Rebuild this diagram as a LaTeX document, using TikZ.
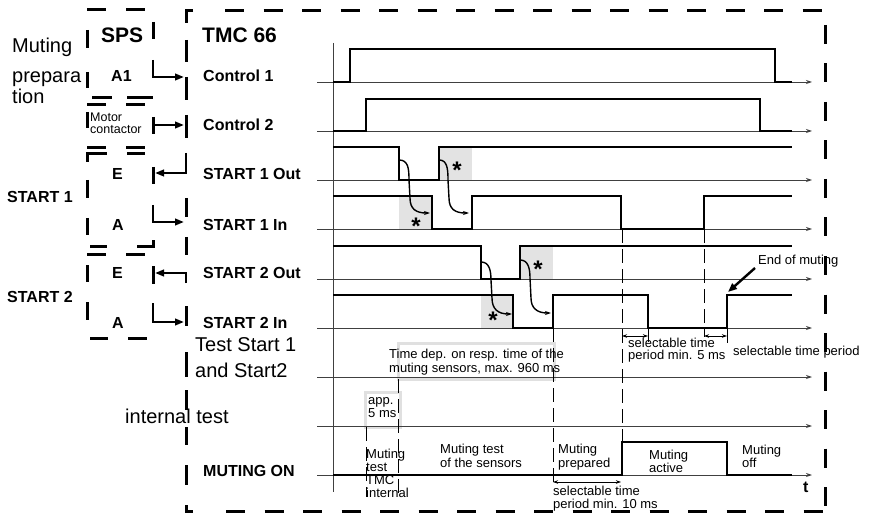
\documentclass[tikz,border=0pt]{standalone}
\usepackage{fontspec}
\setmainfont{Liberation Sans}
\usetikzlibrary{arrows.meta}
\begin{document}
\begin{tikzpicture}[x=1pt,y=-1pt,
  bseg/.style={line width=3pt, line cap=butt, line join=miter},
  hdash/.style={line width=3pt, dash pattern=on 19pt off 20pt},
  wave/.style={line width=2.8pt, line join=miter, line cap=butt},
  base/.style={line width=0.9pt, draw=black!75, -{Stealth[length=6pt,width=4pt]}},
  axisline/.style={line width=0.9pt, draw=black!75},
  guide/.style={line width=0.8pt, dash pattern=on 14pt off 6pt},
  conn/.style={line width=2.4pt, -{Triangle[length=9pt,width=6.5pt]}},
  curv/.style={line width=1.4pt, -{Stealth[length=6pt,width=4pt]}},
  meas/.style={line width=0.8pt, {Stealth[length=5pt,width=3.5pt]}-{Stealth[length=5pt,width=3.5pt]}},
  shade/.style={fill=black!11},
  gbox/.style={draw=black!12, line width=3pt},
  lbl/.style={font=\fontsize{16}{17}\selectfont\bfseries, anchor=base west, inner sep=0},
  heavy/.style={font=\fontsize{21}{22}\selectfont\bfseries, anchor=base west, inner sep=0},
  small/.style={font=\fontsize{13}{14}\selectfont, anchor=base west, inner sep=0},
  mc/.style={font=\fontsize{12.5}{13}\selectfont, anchor=base west, inner sep=0},
  big/.style={font=\fontsize{20}{22}\selectfont, anchor=base west, inner sep=0},
  star/.style={font=\fontsize{24}{24}\selectfont\bfseries, inner sep=0}
]
\useasboundingbox (0,0) rectangle (870,513);

% shaded areas
\fill[shade] (439,147) rectangle (472,180);
\fill[shade] (399,196) rectangle (432,229);
\fill[shade] (520,246) rectangle (553,279);
\fill[shade] (481,295) rectangle (513,328);

% light gray text frames
\draw[gbox] (398,343) rectangle (554,379);
\draw[gbox] (365,392) rectangle (400,427);

% baselines and axis
\foreach \yy in {82,131,180,229,279,328,377,426,475}
  \draw[base] (317,\yy) -- (812,\yy);
\draw[axisline] (333,43) -- (333,492);

% dashed guides
\draw[guide] (366,427) -- (366,497);
\draw[guide] (398,379) -- (398,493);
\draw[guide] (553,328) -- (553,488);
\draw[guide] (622,229) -- (622,442);
\draw[guide] (704,229) -- (704,337);

% measurement arrows
\draw[meas] (622,336) -- (648,336);
\draw[meas] (704,336) -- (727,336);
\draw[meas] (553,482) -- (621,482);
\draw[line width=0.8pt] (648,328) -- (648,342);
\draw[line width=0.8pt] (727,328) -- (727,343);

% waveforms
\draw[wave] (333,82) -- (350,82) -- (350,49) -- (775,49) -- (775,82) -- (792,82);
\draw[wave] (333,131) -- (366,131) -- (366,99) -- (760,99) -- (760,131) -- (792,131);
\draw[wave] (333,147) -- (399,147) -- (399,180) -- (439,180) -- (439,147) -- (792,147);
\draw[wave] (333,196) -- (432,196) -- (432,229) -- (472,229) -- (472,196) -- (621,196) -- (621,229) -- (704,229) -- (704,196) -- (792,196);
\draw[wave] (333,246) -- (481,246) -- (481,279) -- (520,279) -- (520,246) -- (792,246);
\draw[wave] (333,295) -- (513,295) -- (513,328) -- (553,328) -- (553,295) -- (648,295) -- (648,328) -- (727,328) -- (727,295) -- (792,295);
\draw[wave] (333,475) -- (622,475) -- (622,442) -- (727,442) -- (727,475) -- (792,475);

% curved dependency arrows
\coordinate (c1s) at (399,160); \coordinate (c1e) at (430,213);
\coordinate (c2s) at (439,160); \coordinate (c2e) at (469,213);
\coordinate (c3s) at (481,262); \coordinate (c3e) at (512,314);
\coordinate (c4s) at (520,260); \coordinate (c4e) at (551,313);
\draw[curv] (c1s) .. controls (408,160) and (409,168) .. (409,180) -- (410,198) .. controls (410,209) and (416,213) .. (c1e);
\draw[curv] (c2s) .. controls (447,160) and (448,168) .. (448,180) -- (449,198) .. controls (449,209) and (455,213) .. (c2e);
\draw[curv] (c3s) .. controls (489,262) and (491,270) .. (491,280) -- (492,298) .. controls (492,309) and (498,314) .. (c3e);
\draw[curv] (c4s) .. controls (528,260) and (530,268) .. (530,278) -- (531,298) .. controls (531,308) and (537,313) .. (c4e);

\node[star] (st1) at (457,170) {*};
\node[star] (st2) at (416,226) {*};
\node[star] (st3) at (538,269) {*};
\node[star] (st4) at (493,320) {*};

% connectors between SPS and TMC
\coordinate (a1s) at (153,60);  \coordinate (a1e) at (184,77);
\coordinate (mcs) at (153,125); \coordinate (mce) at (184,125);
\coordinate (e1s) at (186,153); \coordinate (e1e) at (155,173);
\coordinate (i1s) at (153,205); \coordinate (i1e) at (184,222);
\coordinate (e2s) at (186,283); \coordinate (e2e) at (155,273);
\coordinate (i2s) at (153,303); \coordinate (i2e) at (184,322);
\draw[conn] (a1s) |- (a1e);
\draw[conn] (mcs) -- (mce);
\draw[conn] (e1s) |- (e1e);
\draw[conn] (i1s) |- (i1e);
\draw[conn] (e2s) |- (e2e);
\draw[conn] (i2s) |- (i2e);

% End of muting arrow
\coordinate (eoms) at (755,268); \coordinate (eome) at (728,292);
\draw[line width=2.4pt, -{Triangle[length=9pt,width=7pt]}] (eoms) -- (eome);

% left texts
\node[big] (mp1) at (12,53) {Muting};
\node[big] (mp2) at (12,83) {prepara};
\node[big] (mp3) at (12,104) {tion};
\node[heavy] (sps) at (101,43) {SPS};
\node[heavy] (tmc) at (202,43) {TMC 66};
\node[lbl] (a1) at (111,82) {A1};
\node[mc] (mot1) at (90,122) {Motor};
\node[mc] (mot2) at (90,134) {contactor};
\node[lbl] (e1) at (112,180) {E};
\node[lbl] (aa1) at (112,230) {A};
\node[lbl] (e2) at (112,278) {E};
\node[lbl] (aa2) at (112,328) {A};
\node[lbl] (st1l) at (7,203) {START 1};
\node[lbl] (st2l) at (7,302) {START 2};

\node[lbl] (c1) at (203,82) {Control 1};
\node[lbl] (c2) at (203,131) {Control 2};
\node[lbl] (s1o) at (203,180) {START 1 Out};
\node[lbl] (s1i) at (203,230) {START 1 In};
\node[lbl] (s2o) at (203,278) {START 2 Out};
\node[lbl] (s2i) at (203,328) {START 2 In};
\node[big] (ts1) at (195,351) {Test Start 1};
\node[big] (ts2) at (195,377) {and Start2};
\node[big] (it) at (125,423) {internal test};
\node[lbl] (mon) at (203,476) {MUTING ON};
\node[lbl] (tt) at (803,492) {t};

% chart texts
\node[small] (td1) at (389,358.5) {Time dep. on resp. time of the};
\node[small] (td2) at (389,372.5) {muting sensors, max. 960 ms};
\node[small] (ap1) at (368,404.5) {app.};
\node[small] (ap2) at (368,417.5) {5 ms};
\node[small] (mt1) at (366,458) {Muting};
\node[small] (mt2) at (366,471) {test};
\node[small] (mt3) at (366,484.5) {TMC};
\node[small] (mt4) at (366,497.5) {internal};
\node[small] (ms1) at (440,453.5) {Muting test};
\node[small] (ms2) at (440,467.5) {of the sensors};
\node[small] (mpr1) at (558,453.5) {Muting};
\node[small] (mpr2) at (558,467.5) {prepared};
\node[small] (ma1) at (649,459) {Muting};
\node[small] (ma2) at (649,472) {active};
\node[small] (mo1) at (742,454.5) {Muting};
\node[small] (mo2) at (742,467.5) {off};
\node[small] (sel1) at (553,495.5) {selectable time};
\node[small] (sel2) at (553,508.5) {period min. 10 ms};
\node[small] (sel3) at (628,347.5) {selectable time};
\node[small] (sel4) at (628,359) {period min. 5 ms};
\node[small] (sel5) at (733,355) {selectable time period};
\node[small] (eom) at (758,264.5) {End of muting};

% ---- dashed borders (drawn last, over the texts) ----
% TMC 66 frame
\draw[bseg] (193,11) -- (186,11) -- (186,23);
\foreach \a/\b in {40/62,77/100,115/138,198/217,237/255,306/326,352/377,390/410,427/445,465/485}
  \draw[bseg] (186,\a) -- (186,\b);
\draw[bseg] (186,505) -- (186,511) -- (193,511);
\foreach \i in {0,...,15}
  \draw[bseg] ({225+38.5*\i},11) -- ({244+38.5*\i},11);
\foreach \i in {0,...,15}
  \draw[bseg] ({226+38.5*\i},511) -- ({245+38.5*\i},511);
\foreach \i in {0,...,12}
  \draw[bseg] (825,{25+38.5*\i}) -- (825,{44+38.5*\i});
% SPS column: horizontal edges
\foreach \yy in {10,105,148,254}
  \draw[hdash] (87,\yy) -- (153,\yy);
\draw[bseg] (92,98) -- (112,98);
\draw[bseg] (127,98) -- (153,98);
\draw[bseg] (87,162) -- (87,154) -- (107,154);
\draw[bseg] (127,154) -- (145,154);
\draw[bseg] (90,246) -- (107,246);
\draw[bseg] (137,246) -- (153,246) -- (153,240);
\draw[bseg] (90,338) -- (108,338);
\draw[bseg] (128,338) -- (147,338);
% SPS column: vertical edges
\foreach \a/\b in {30/48,72/88,112/128,180/198,218/235,265/282,302/320}
  \draw[bseg] (87,\a) -- (87,\b);
\foreach \a/\b in {22/39,117/134,167/184,266/284}
  \draw[bseg] (153,\a) -- (153,\b);
\end{tikzpicture}
\end{document}
